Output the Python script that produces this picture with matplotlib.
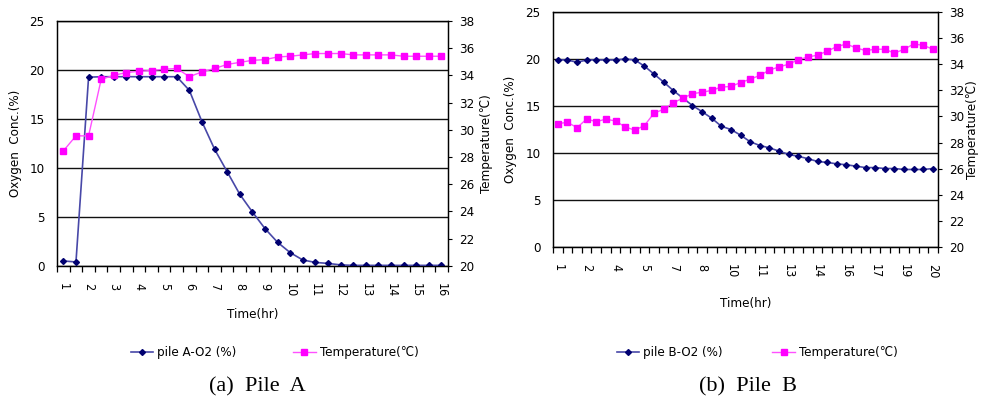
import numpy as np
import matplotlib
matplotlib.use("Agg")
import matplotlib.pyplot as plt
from matplotlib.lines import Line2D

plt.rcParams['font.family'] = ['DejaVu Sans']
plt.rcParams['font.stretch'] = 'condensed'

# Pile A: half-hourly readings from 1 h to 16 h
o2_a = [0.5, 0.4, 19.25, 19.3, 19.3, 19.3, 19.3, 19.3, 19.3, 19.3, 17.9, 14.7, 11.9, 9.6, 7.3,
        5.5, 3.8, 2.4, 1.35, 0.6, 0.35, 0.25, 0.1, 0.05, 0.05, 0.05, 0.05, 0.05, 0.05, 0.05, 0.05]
temp_a = [28.45, 29.55, 29.55, 33.7, 34.0, 34.2, 34.3, 34.35, 34.45, 34.5, 33.9, 34.25, 34.5, 34.8, 34.95,
          35.1, 35.15, 35.35, 35.4, 35.5, 35.6, 35.6, 35.6, 35.5, 35.5, 35.5, 35.5, 35.4, 35.4, 35.4, 35.4]
labels_a = [str(i) for i in range(1, 17)]

# Pile B: 40 readings
o2_b = [19.9, 19.9, 19.65, 19.9, 19.9, 19.9, 19.9, 20.0, 19.9, 19.25, 18.4, 17.55, 16.65, 15.85, 15.05,
        14.4, 13.7, 12.85, 12.5, 11.9, 11.2, 10.8, 10.55, 10.2, 9.85, 9.65, 9.4, 9.1, 9.0, 8.85,
        8.75, 8.6, 8.45, 8.45, 8.35, 8.35, 8.25, 8.25, 8.25, 8.35]
temp_b = [29.45, 29.55, 29.15, 29.8, 29.6, 29.8, 29.65, 29.2, 28.95, 29.3, 30.25, 30.55, 31.05, 31.4, 31.75,
          31.85, 32.0, 32.25, 32.3, 32.6, 32.85, 33.15, 33.55, 33.8, 34.0, 34.35, 34.55, 34.7, 35.0, 35.35,
          35.55, 35.25, 35.05, 35.15, 35.15, 34.85, 35.15, 35.55, 35.45, 35.15]
labels_b = ['1', '2', '4', '5', '7', '8', '10', '11', '13', '14', '16', '17', '19', '20']

O2_LINE = '#4848a8'
O2_MARK = '#000070'
T_LINE = '#ff50ff'
T_MARK = '#ff00ff'


def draw_pile(fig, rect, o2, temp, labels, step, name, ylab_x, tlab_x, time_y, leg_x):
    ax = fig.add_axes(rect)
    n = len(o2)
    x = np.arange(n)
    ax.plot(x, o2, color=O2_LINE, lw=1.2, marker='D', ms=3, mfc=O2_MARK, mec=O2_MARK, zorder=3)
    ax.set_xlim(-0.5, n - 0.5)
    ax.set_ylim(0, 25)
    ax.set_yticks(range(0, 26, 5))
    ax.yaxis.grid(True, color='#111111', lw=1.0)
    ax.set_axisbelow(True)
    ax.tick_params(axis='y', length=0, pad=9, labelsize=9.5)
    ax.set_xticks(x[::step])
    ax.set_xticklabels(labels, rotation=-90, fontsize=9)
    ax.set_xticks(np.arange(-0.5, n, 1), minor=True)
    ax.tick_params(axis='x', which='major', length=0, pad=12)
    ax.tick_params(axis='x', which='minor', length=4, direction='out', width=0.9)
    for s in ax.spines.values():
        s.set_color('#111111')
        s.set_linewidth(1.0)

    ax2 = ax.twinx()
    ax2.plot(x, temp, color=T_LINE, lw=1.0, marker='s', ms=4.5, mfc=T_MARK, mec=T_MARK, zorder=3)
    ax2.set_ylim(20, 38)
    ax2.set_yticks(range(20, 39, 2))
    ax2.tick_params(axis='y', length=3, pad=5, labelsize=9.5, direction='out')
    ax2.set_xlim(-0.5, n - 0.5)

    mid = rect[1] + rect[3] / 2
    fig.text(ylab_x, mid, 'Oxygen  Conc.(%)', rotation=90, ha='center', va='center', fontsize=9.5)
    fig.text(tlab_x, mid, 'Temperature(\u2103)', rotation=90, ha='center', va='center', fontsize=9.5)
    cx = rect[0] + rect[2] / 2
    fig.text(cx, time_y, 'Time(hr)', ha='center', va='center', fontsize=9.5)

    h_o2 = Line2D([], [], color=O2_LINE, lw=1.2, marker='D', ms=3, mfc=O2_MARK, mec=O2_MARK)
    h_t = Line2D([], [], color=T_LINE, lw=1.0, marker='s', ms=4.5, mfc=T_MARK, mec=T_MARK)
    for h, lab, lx in [(h_o2, 'pile %s-O2 (%%)' % name, leg_x[0]),
                       (h_t, 'Temperature(\u2103)', leg_x[1])]:
        fig.legend([h], [lab], loc='center left', bbox_to_anchor=(lx, 0.12), frameon=False,
                   fontsize=9.5, handlelength=1.7, handletextpad=0.3, borderpad=0, borderaxespad=0)
    return ax


fig = plt.figure(figsize=(9.84, 4.01), dpi=100)
draw_pile(fig, [0.058, 0.337, 0.397, 0.611], o2_a, temp_a, labels_a, 2, 'A',
          0.016, 0.494, 0.216, (0.133, 0.298))
draw_pile(fig, [0.562, 0.384, 0.391, 0.586], o2_b, temp_b, labels_b, 3, 'B',
          0.519, 0.988, 0.243, (0.627, 0.785))

fig.text(0.262, 0.035, '(a)  Pile  A', ha='center', va='center', fontsize=16, family='Liberation Serif')
fig.text(0.760, 0.035, '(b)  Pile  B', ha='center', va='center', fontsize=16, family='Liberation Serif')

fig.savefig('out.png', dpi=100, facecolor='white')
